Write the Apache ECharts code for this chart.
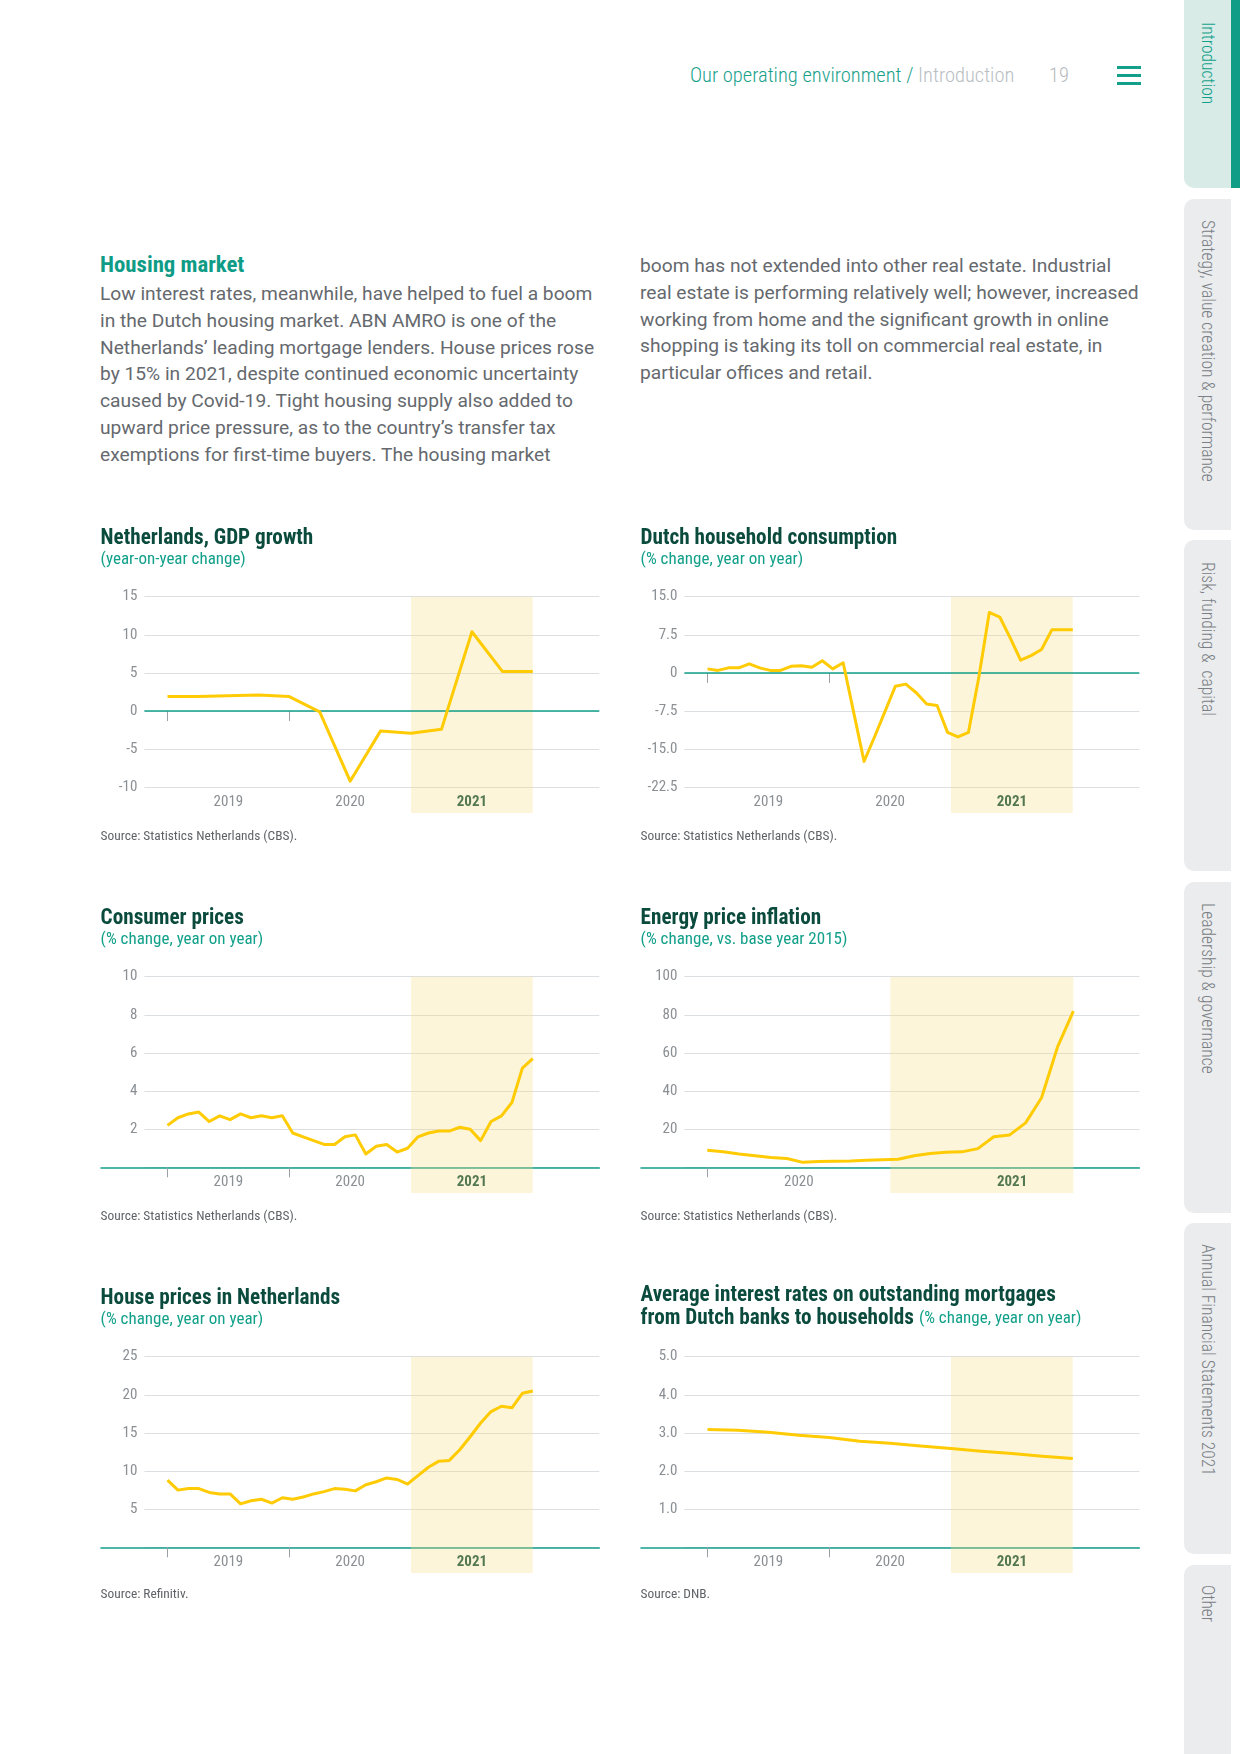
<!DOCTYPE html>
<html><head><meta charset="utf-8">
<script src="https://cdn.jsdelivr.net/npm/echarts@6/dist/echarts.min.js"></script>
<style>
html,body{margin:0;padding:0;background:#fff;}
body{width:1240px;height:1754px;position:relative;overflow:hidden;font-family:Roboto,"Noto Sans",sans-serif;}
.abs{position:absolute;}
.cond{font-family:"Roboto Condensed",Roboto,sans-serif;}
#hdr{left:690px;top:63px;font-size:20.5px;font-weight:300;color:#19a18b;white-space:nowrap;}
#hdr .g{color:#b9bec2;}
#pg{left:1049px;top:63px;font-size:20.5px;font-weight:300;color:#b5babe;}
.hb{left:1117px;width:24px;height:2.6px;background:#12a08a;}
#heading{left:100px;top:251px;font-size:22.8px;font-weight:bold;color:#0f9c86;}
.para{font-size:19.2px;line-height:26.8px;color:#65696e;white-space:nowrap;}
.tab{left:1184px;width:47px;background:#ebecee;border-radius:10px 0 0 10px;}
.tabt{left:1198px;writing-mode:vertical-rl;font-size:17.5px;font-weight:300;color:#7a8085;white-space:nowrap;}
.chart{position:absolute;width:530px;height:340px;}
</style></head>
<body>
<div id="hdr" class="abs cond">Our operating environment / <span class="g">Introduction</span></div>
<div id="pg" class="abs cond">19</div>
<div class="abs hb" style="top:66px"></div>
<div class="abs hb" style="top:74px"></div>
<div class="abs hb" style="top:82px"></div>

<div class="abs tab" style="top:-10px;height:198px;background:#d8ebe7"></div>
<div class="abs" style="left:1231px;top:0;width:9px;height:188px;background:#0f9d87"></div>
<div class="abs tab" style="top:199px;height:331px"></div>
<div class="abs tab" style="top:540px;height:331px"></div>
<div class="abs tab" style="top:882px;height:331px"></div>
<div class="abs tab" style="top:1223px;height:331px"></div>
<div class="abs tab" style="top:1565px;height:200px"></div>
<div class="abs tabt cond" style="top:22px;color:#12a08a">Introduction</div>
<div class="abs tabt cond" style="top:220px">Strategy, value creation &amp; performance</div>
<div class="abs tabt cond" style="top:562px">Risk, funding &amp;&nbsp; capital</div>
<div class="abs tabt cond" style="top:903px">Leadership &amp; governance</div>
<div class="abs tabt cond" style="top:1244px">Annual Financial Statements 2021</div>
<div class="abs tabt cond" style="top:1585px">Other</div>

<div id="heading" class="abs cond">Housing market</div>
<div class="abs para" style="left:100px;top:281px">Low interest rates, meanwhile, have helped to fuel a boom<br>in the Dutch housing market. ABN AMRO is one of the<br>Netherlands’ leading mortgage lenders. House prices rose<br>by 15% in 2021, despite continued economic uncertainty<br>caused by Covid-19. Tight housing supply also added to<br>upward price pressure, as to the country’s transfer tax<br>exemptions for first-time buyers. The housing market</div>
<div class="abs para" style="left:640px;top:253px">boom has not extended into other real estate. Industrial<br>real estate is performing relatively well; however, increased<br>working from home and the significant growth in online<br>shopping is taking its toll on commercial real estate, in<br>particular offices and retail.</div>

<div id="c1" class="chart" style="left:90px;top:510px"></div>
<div id="c2" class="chart" style="left:630px;top:510px"></div>
<div id="c3" class="chart" style="left:90px;top:890px"></div>
<div id="c4" class="chart" style="left:630px;top:890px"></div>
<div id="c5" class="chart" style="left:90px;top:1270px"></div>
<div id="c6" class="chart" style="left:630px;top:1270px"></div>

<script>
// ---------- data ----------
const yearLabels = ['2019', '2020', '2021'];
const gdpQuarterly = [1.9, 1.9, 2.0, 2.1, 1.9, -0.1, -9.2, -2.6, -2.9, -2.4, 10.4, 5.2, 5.2];
const consumptionMonthly = [0.8, 0.5, 1.0, 1.0, 1.8, 1.0, 0.5, 0.5, 1.3, 1.4, 1.1, 2.4,
  0.8, 2.0, -7.7, -17.4, -12.6, -7.6, -2.6, -2.2, -3.9, -6.1, -6.4, -11.7,
  -12.6, -11.7, -0.8, 11.9, 11.0, 6.9, 2.5, 3.4, 4.6, 8.5, 8.5, 8.5];
const cpiMonthly = [2.2, 2.6, 2.8, 2.9, 2.4, 2.7, 2.5, 2.8, 2.6, 2.7, 2.6, 2.7,
  1.8, 1.6, 1.4, 1.2, 1.2, 1.6, 1.7, 0.7, 1.1, 1.2, 0.8, 1.0,
  1.6, 1.8, 1.9, 1.9, 2.1, 2.0, 1.4, 2.4, 2.7, 3.4, 5.2, 5.7];
const energyMonthly = [8.9, 8.2, 7.0, 6.0, 5.1, 4.6, 2.6, 3.0, 3.2, 3.3, 3.7, 3.9,
  4.2, 6.1, 7.2, 7.9, 8.1, 9.8, 16.0, 17.0, 23.3, 36.5, 63.0, 81.9];
const housePricesMonthly = [8.8, 7.5, 7.7, 7.7, 7.2, 7.0, 7.0, 5.7, 6.1, 6.3, 5.8, 6.5,
  6.3, 6.6, 7.0, 7.3, 7.7, 7.6, 7.4, 8.2, 8.6, 9.1, 8.9, 8.3,
  9.4, 10.5, 11.3, 11.4, 12.8, 14.5, 16.3, 17.8, 18.5, 18.3, 20.2, 20.5];
const mortgageRateQuarterly = [3.09, 3.07, 3.02, 2.94, 2.88, 2.78, 2.73, 2.66, 2.59, 2.52, 2.46, 2.39, 2.33];

// ---------- style ----------
const FONT_C = "'Roboto Condensed',Roboto,sans-serif";
const TEAL = '#12a08a', DARK = '#0b4b3d', GRID = '#dcdfe2', LBL = '#8a8f94', YEL = '#ffcb05';
const BAND = 'rgba(248,222,128,0.3)';

function fmtInt(v) { return String(v); }
function fmtIntNoZero(v) { return v === 0 ? '' : String(v); }
function fmtDec(v) { return v === 0 ? '0' : v.toFixed(1); }
function fmtDecNoZero(v) { return v === 0 ? '' : v.toFixed(1); }

function buildOption(c) {
  const n = c.values.length;
  const data = c.values.map((v, i) => [c.xStart + i * (c.xEnd - c.xStart) / (n - 1), v]);
  const G = { left: 54.4, right: 20.7, top: 86.7, bottom: 62.7 };
  const titleText = c.titleRich ? c.titleRich : c.title;
  return {
    animation: false,
    title: [
      { text: titleText, left: 10.6, top: c.titleRich ? 14.5 : 17, padding: 0,
        textStyle: { fontFamily: FONT_C, fontSize: 21.2, fontWeight: 'bold', color: DARK, lineHeight: 22.5,
          rich: { t: { fontFamily: FONT_C, fontSize: 21.2, fontWeight: 'bold', color: DARK, lineHeight: 22.5 },
                  s: { fontFamily: FONT_C, fontSize: 17, fontWeight: 'normal', color: TEAL, lineHeight: 22.5 } } } },
      { text: c.sub || '', left: 10.6, top: 40, padding: 0,
        textStyle: { fontFamily: FONT_C, fontSize: 17, fontWeight: 'normal', color: TEAL, lineHeight: 19 } },
      { text: c.source, left: 10.6, top: c.sourceTop || 319, padding: 0,
        textStyle: { fontFamily: FONT_C, fontSize: 13.4, fontWeight: 'normal', color: '#5f6368', lineHeight: 16 } }
    ],
    grid: [
      { left: G.left, right: G.right, top: G.top, bottom: G.bottom },
      { left: 11, right: G.right, top: G.top, bottom: G.bottom },
      { left: G.left, right: G.right, top: G.top, bottom: 37 }
    ],
    xAxis: [
      { gridIndex: 0, type: 'value', min: c.xMin, max: c.xMax,
        axisLine: { show: false }, splitLine: { show: false },
        axisTick: { show: true, customValues: c.tickValues, length: 10, lineStyle: { color: '#9aa0a5', width: 1 } },
        axisLabel: { customValues: c.labelValues, margin: 7, color: LBL, fontFamily: FONT_C, fontSize: 15,
          formatter: v => { const y = yearLabels[Math.floor(v) - 2019]; return y === '2021' ? '{b|' + y + '}' : y; },
          rich: { b: { fontFamily: FONT_C, fontSize: 15, fontWeight: 'bold', color: DARK } } } },
      { gridIndex: 1, type: 'value', min: 0, max: 1, show: !c.zeroLine,
        axisLine: { show: true, lineStyle: { color: TEAL, width: 1.5 } },
        axisTick: { show: false }, axisLabel: { show: false }, splitLine: { show: false } },
      { gridIndex: 2, type: 'value', min: c.xMin, max: c.xMax, show: false }
    ],
    yAxis: [
      { gridIndex: 0, type: 'value', min: c.yMin, max: c.yMax, interval: c.yInterval,
        axisLine: { show: false }, axisTick: { show: false },
        splitLine: { lineStyle: { color: GRID, width: 1 } },
        axisLabel: { margin: 7, color: LBL, fontFamily: FONT_C, fontSize: 15, formatter: c.yFmt } },
      { gridIndex: 1, type: 'value', show: false },
      { gridIndex: 2, type: 'value', min: 0, max: 1, show: false }
    ],
    series: [
      { type: 'line', xAxisIndex: 2, yAxisIndex: 2, data: [], silent: true,
        markArea: { silent: true, itemStyle: { color: BAND }, data: [[{ xAxis: c.band[0] }, { xAxis: c.band[1] }]] } },
      { type: 'line', xAxisIndex: 0, yAxisIndex: 0, data: data, symbol: 'none', z: 5, silent: true,
        lineStyle: { color: YEL, width: 3, join: 'round' },
        markLine: c.zeroLine ? { silent: true, symbol: ['none', 'none'], label: { show: false },
          lineStyle: { color: TEAL, width: 1.5, type: 'solid' }, data: [{ yAxis: 0 }] } : undefined }
    ]
  };
}

const threeYear = { xMin: 2019 - 23.1 / 121.77, xMax: 2022 + 66.5 / 121.77, xStart: 2019, xEnd: 2022,
  tickValues: [2019, 2020], labelValues: [2019.5, 2020.5, 2021.5], band: [2021, 2022] };
const twoYear = { xMin: 2020 - 22.9 / 183.25, xMax: 2022 + 66 / 183.25, xStart: 2020, xEnd: 2022,
  tickValues: [2020], labelValues: [2020.5, 2021.665], band: [2021, 2022] };

const charts = [
  ['c1', Object.assign({}, threeYear, { title: 'Netherlands, GDP growth', sub: '(year-on-year change)',
    source: 'Source: Statistics Netherlands (CBS).', values: gdpQuarterly, yMin: -10, yMax: 15, yInterval: 5,
    yFmt: fmtInt, zeroLine: true })],
  ['c2', Object.assign({}, threeYear, { title: 'Dutch household consumption', sub: '(% change, year on year)',
    source: 'Source: Statistics Netherlands (CBS).', values: consumptionMonthly, yMin: -22.5, yMax: 15, yInterval: 7.5,
    yFmt: fmtDec, zeroLine: true })],
  ['c3', Object.assign({}, threeYear, { title: 'Consumer prices', sub: '(% change, year on year)',
    source: 'Source: Statistics Netherlands (CBS).', values: cpiMonthly, yMin: 0, yMax: 10, yInterval: 2,
    yFmt: fmtIntNoZero, zeroLine: false })],
  ['c4', Object.assign({}, twoYear, { title: 'Energy price inflation', sub: '(% change, vs. base year 2015)',
    source: 'Source: Statistics Netherlands (CBS).', values: energyMonthly, yMin: 0, yMax: 100, yInterval: 20,
    yFmt: fmtIntNoZero, zeroLine: false })],
  ['c5', Object.assign({}, threeYear, { title: 'House prices in Netherlands', sub: '(% change, year on year)',
    source: 'Source: Refinitiv.', values: housePricesMonthly, yMin: 0, yMax: 25, yInterval: 5,
    yFmt: fmtIntNoZero, zeroLine: false, sourceTop: 317 })],
  ['c6', Object.assign({}, threeYear, { title: '',
    titleRich: '{t|Average interest rates on outstanding mortgages}\n{t|from Dutch banks to households} {s|(% change, year on year)}',
    sub: '', source: 'Source: DNB.', values: mortgageRateQuarterly, yMin: 0, yMax: 5, yInterval: 1,
    yFmt: fmtDecNoZero, zeroLine: false, sourceTop: 317 })]
];

charts.forEach(([id, cfg]) => {
  const ch = echarts.init(document.getElementById(id), null, { renderer: 'canvas' });
  ch.setOption(buildOption(cfg));
});
</script>
</body></html>
